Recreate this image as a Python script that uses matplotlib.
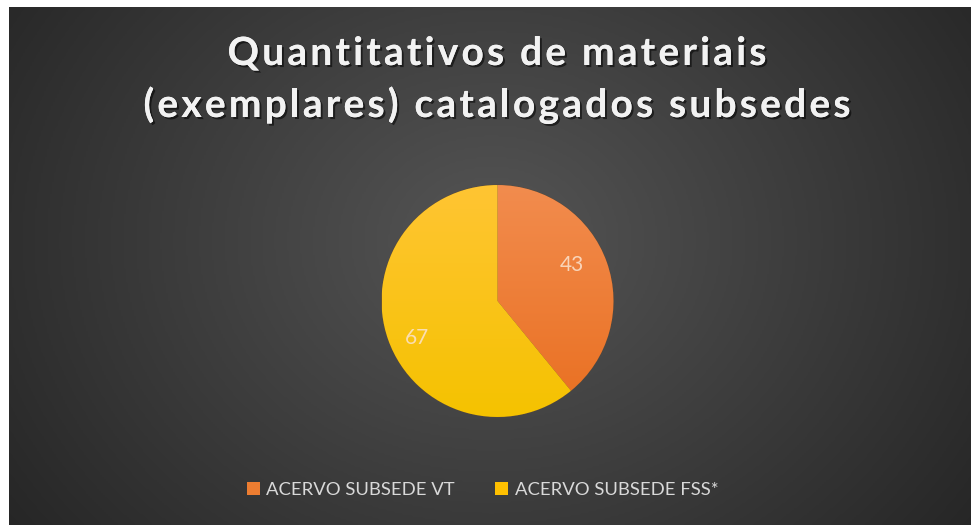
import numpy as np
import matplotlib
matplotlib.use("Agg")
import matplotlib.pyplot as plt
import matplotlib.patheffects as pe
from matplotlib.colors import LinearSegmentedColormap
from matplotlib.font_manager import FontProperties, findfont
from matplotlib.ft2font import FT2Font

title_lines = ["Quantitativos de materiais", "(exemplares) catalogados subsedes"]
labels = ["ACERVO SUBSEDE VT", "ACERVO SUBSEDE FSS*"]
values = [43, 67]
colors = ["#ED7D31", "#FFC000"]
grad_top = ["#F28C4E", "#FFC533"]
grad_bot = ["#E96F20", "#F5C200"]

W, H = 971, 525
DPI = 100
fig = plt.figure(figsize=(W / DPI, H / DPI), dpi=DPI, facecolor="white")

# background panel with radial gradient
bg = fig.add_axes([9 / W, 0, (W - 9) / W, (H - 7) / H])
bg.set_axis_off()
ny, nx = 260, 480
yy, xx = np.mgrid[0:ny, 0:nx]
cx, cy = nx * 0.50, ny * 0.45
r = np.sqrt(((xx - cx) / (nx * 0.62)) ** 2 + ((yy - cy) / (ny * 0.95)) ** 2)
r = np.clip(r, 0, 1)
cmap_bg = LinearSegmentedColormap.from_list("bg", ["#555555", "#262626"])
bg.imshow(r, cmap=cmap_bg, aspect="auto", extent=[0, 1, 0, 1], origin="upper",
          vmin=0, vmax=1, interpolation="bilinear")
bg.set_xlim(0, 1)
bg.set_ylim(0, 1)

# pie
pcx, pcy, pr = 497.5, 301, 116
pax = fig.add_axes([(pcx - pr - 4) / W, (H - pcy - pr - 4) / H, (2 * pr + 8) / W, (2 * pr + 8) / H])
pax.set_axis_off()
wedges, texts = pax.pie(values, colors=colors, startangle=90, counterclock=False,
                        radius=1.0, labels=None,
                        wedgeprops=dict(edgecolor="#5a4a3a", linewidth=0.6))
pax.set_xlim(-1.035, 1.035)
pax.set_ylim(-1.035, 1.035)
pax.set_aspect("equal")

for w, ct, cb in zip(wedges, grad_top, grad_bot):
    cm = LinearSegmentedColormap.from_list("g", [cb, ct])
    g = np.linspace(0, 1, 200).reshape(-1, 1)
    im = pax.imshow(g, cmap=cm, extent=[-1, 1, -1, 1], origin="lower", aspect="auto",
                    zorder=w.get_zorder() + 0.1)
    im.set_clip_path(w)

# data labels (radius fraction, angle tweak in degrees)
label_pos = [(0.71, 6.0), (0.76, 5.0)]
total = sum(values)
angle = 90
for v, (rf, da) in zip(values, label_pos):
    span = 360 * v / total
    mid = np.deg2rad(angle - span / 2 + da)
    angle -= span
    pax.text(rf * np.cos(mid), rf * np.sin(mid), str(v), ha="center", va="center",
             fontsize=15, color="#FBE3CF", alpha=0.85, family="Lato", zorder=10)

# title with letter tracking
tsize = 28
tprop = FontProperties(family="Lato", weight="bold", size=tsize)
ft = FT2Font(findfont(tprop))
ft.set_size(tsize, DPI)


def advances(s):
    return [ft.load_char(ord(c)).linearHoriAdvance / 65536.0 for c in s]


target_w2 = 707.0
adv2 = advances(title_lines[1])
track = (target_w2 - sum(adv2)) / (len(title_lines[1]) - 1)
baselines = [65, 117]
center_x = 497
shadow = [pe.withSimplePatchShadow(offset=(1.5, -1.5), shadow_rgbFace="black", alpha=0.55),
          pe.Normal()]
for line, base in zip(title_lines, baselines):
    adv = advances(line)
    total_w = sum(adv) + track * (len(line) - 1)
    x = center_x - total_w / 2
    for c, a in zip(line, adv):
        if c != " ":
            fig.text(x / W, 1 - base / H, c, ha="left", va="baseline",
                     fontproperties=tprop, color="#F2F2F2", path_effects=shadow)
        x += a + track

# legend
handles = [plt.Rectangle((0, 0), 1, 1, facecolor=c) for c in colors]
leg = fig.legend(handles, labels, loc="center", bbox_to_anchor=(482.5 / W, 1 - 490 / H),
                 ncol=2, frameon=False, handlelength=0.7, handleheight=0.7,
                 handletextpad=0.35, columnspacing=2.2,
                 prop=dict(family="Lato", size=13.3))
for t in leg.get_texts():
    t.set_color("#D9D9D9")

fig.savefig("out.png", dpi=DPI, facecolor="white")
